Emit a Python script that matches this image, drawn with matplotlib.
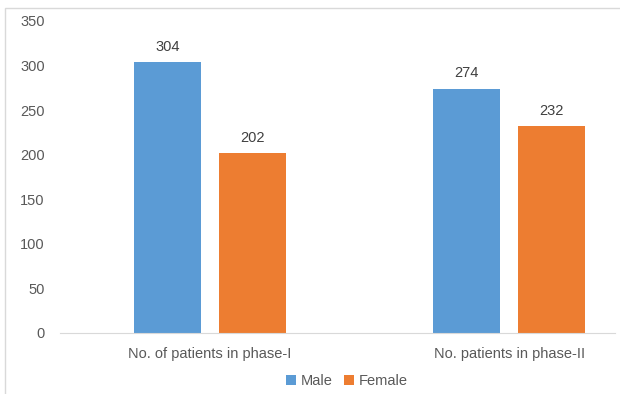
import matplotlib.pyplot as plt
from matplotlib.patches import Rectangle
import numpy as np

categories = ["No. of patients in phase-I", "No. patients in phase-II"]
male = [304, 274]
female = [202, 232]
y_ticks = [0, 50, 100, 150, 200, 250, 300, 350]

BLUE = "#5B9BD5"
ORANGE = "#ED7D31"
TEXT = "#595959"

plt.rcParams['font.family'] = ['Liberation Sans', 'DejaVu Sans']

W, H = 620, 394
fig = plt.figure(figsize=(W / 100, H / 100), dpi=100)

# chart frame (only left and top edges end up visible)
fig.patches.append(Rectangle((5 / W, -0.1), 2, 1 - 8 / H + 0.1, transform=fig.transFigure,
                             fill=False, edgecolor="#D9D9D9", linewidth=1.0))

ax = fig.add_axes([60 / W, 61 / H, 599 / W, 312 / H])
x = np.arange(len(categories))
off, width = 0.142, 0.224
b1 = ax.bar(x - off, male, width, color=BLUE, label="Male")
b2 = ax.bar(x + off, female, width, color=ORANGE, label="Female")
for bars in (b1, b2):
    for rect in bars:
        ax.annotate(f"{int(rect.get_height())}", (rect.get_x() + rect.get_width() / 2, rect.get_height()),
                    xytext=(0, 6), textcoords="offset points", ha="center", va="bottom",
                    fontsize=10.5, color="#404040")

ax.set_xlim(-0.5, 1.5)
ax.set_ylim(0, 350)
ax.set_yticks(y_ticks)
ax.set_xticks(x)
ax.set_xticklabels(categories)
ax.tick_params(axis="both", length=0, labelsize=10.5, colors=TEXT)
ax.tick_params(axis="y", pad=11)
ax.tick_params(axis="x", pad=10)
for s in ("top", "right", "left"):
    ax.spines[s].set_visible(False)
ax.spines["bottom"].set_color("#D9D9D9")
ax.spines["bottom"].set_bounds(-0.5, 1.353)

fig.legend(loc="center", bbox_to_anchor=(347 / W, 1 - 381 / H), ncol=2, frameon=False,
           fontsize=10.5, handlelength=0.7, handleheight=0.7, handletextpad=0.3,
           columnspacing=0.8, labelcolor=TEXT)

fig.savefig("out.png", dpi=100)
